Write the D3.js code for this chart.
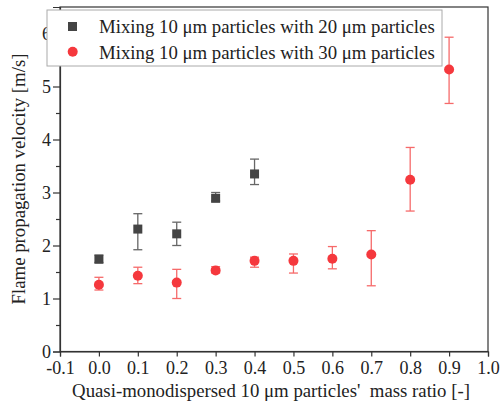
<!DOCTYPE html>
<html>
<head>
<meta charset="utf-8">
<script src="https://cdn.jsdelivr.net/npm/d3@7"></script>
<style>
  body { margin: 0; background: #fff; }
  text { font-family: "Liberation Serif", "Times New Roman", serif; fill: #222; }
</style>
</head>
<body>
<div id="chart"></div>
<script>
// data
let ratioA = [0.0, 0.1, 0.2, 0.3, 0.4];
let speedA = [1.74, 2.31, 2.22, 2.89, 3.35];
let lowA = [1.68, 1.92, 2.00, 2.84, 3.15];
let highA = [1.82, 2.60, 2.44, 3.00, 3.63];

let ratioB = [0.0, 0.1, 0.2, 0.3, 0.4, 0.5, 0.6, 0.7, 0.8, 0.9];
let speedB = [1.26, 1.43, 1.30, 1.53, 1.71, 1.71, 1.75, 1.83, 3.24, 5.32];
let lowB = [1.16, 1.28, 1.00, 1.48, 1.59, 1.48, 1.56, 1.24, 2.65, 4.68];
let highB = [1.40, 1.59, 1.55, 1.60, 1.78, 1.84, 1.98, 2.28, 3.85, 5.93];

let xTicks = [-0.1, 0.0, 0.1, 0.2, 0.3, 0.4, 0.5, 0.6, 0.7, 0.8, 0.9, 1.0];
let yTicks = [0, 1, 2, 3, 4, 5, 6];
let yMinor = [0.5, 1.5, 2.5, 3.5, 4.5, 5.5];
let legendLabels = ["Mixing 10 \u03bcm particles with 20 \u03bcm particles",
                    "Mixing 10 \u03bcm particles with 30 \u03bcm particles"];

let width = 500;
let height = 412;
let plotLeft = 60, plotRight = 488, plotTop = 7, plotBottom = 351.5;
let darkColor = "#444";
let darkErr = "#666";
let redColor = "#f5383d";
let redErr = "#f66a6a";
let titleSize = 18.8;

let svg = d3.select("#chart").append("svg")
  .attr("width", width)
  .attr("height", height);

let x = d3.scaleLinear().domain([-0.1, 1.0]).range([plotLeft, plotRight]);
let y = d3.scaleLinear().domain([0, 6.5]).range([plotBottom, plotTop]);

// frame
svg.append("rect")
  .attr("x", plotLeft).attr("y", plotTop)
  .attr("width", plotRight - plotLeft).attr("height", plotBottom - plotTop)
  .attr("fill", "none").attr("stroke", "#333").attr("stroke-width", 1.2);

// hyphen instead of unicode minus, like the original
let fmtX = d => d3.format(".1f")(d).replace("\u2212", "-");

svg.append("g")
  .attr("transform", "translate(0," + plotBottom + ")")
  .call(d3.axisBottom(x).tickValues(xTicks).tickFormat(fmtX).tickSize(5).tickPadding(5));

svg.append("g")
  .attr("transform", "translate(" + plotLeft + ",0)")
  .call(d3.axisLeft(y).tickValues(yTicks).tickFormat(d3.format("d")).tickSize(7).tickPadding(2));

svg.append("g")
  .attr("transform", "translate(" + plotLeft + ",0)")
  .call(d3.axisLeft(y).tickValues(yMinor).tickSize(4).tickFormat(""))
  .select(".domain").remove();

svg.selectAll(".tick text")
  .attr("font-size", 18)
  .style("font-family", "'Liberation Serif', serif")
  .attr("fill", "#222");
svg.selectAll(".tick line, .domain").attr("stroke", "#333").attr("stroke-width", 1.2);

// axis titles
svg.append("text")
  .attr("x", 271).attr("y", 397)
  .attr("text-anchor", "middle")
  .attr("font-size", titleSize)
  .text("Quasi-monodispersed 10 \u03bcm particles'\u00a0 mass ratio [-]");

svg.append("text")
  .attr("transform", "translate(25,179)rotate(-90)")
  .attr("text-anchor", "middle")
  .attr("font-size", titleSize)
  .text("Flame propagation velocity [m/s]");

// error bars
function errorBars(xs, lo, hi, color) {
  let g = svg.append("g").attr("stroke", color).attr("stroke-width", 1.3);
  xs.forEach(function(d, i) {
    g.append("line").attr("x1", x(d)).attr("x2", x(d)).attr("y1", y(lo[i])).attr("y2", y(hi[i]));
    g.append("line").attr("x1", x(d) - 4.5).attr("x2", x(d) + 4.5).attr("y1", y(lo[i])).attr("y2", y(lo[i]));
    g.append("line").attr("x1", x(d) - 4.5).attr("x2", x(d) + 4.5).attr("y1", y(hi[i])).attr("y2", y(hi[i]));
  });
}
errorBars(ratioA, lowA, highA, darkErr);
errorBars(ratioB, lowB, highB, redErr);

svg.append("g").selectAll("rect")
  .data(ratioA)
  .join("rect")
  .attr("x", d => x(d) - 4.5)
  .attr("y", (d, i) => y(speedA[i]) - 4.5)
  .attr("width", 9).attr("height", 9)
  .attr("fill", darkColor);

svg.append("g").selectAll("circle")
  .data(ratioB)
  .join("circle")
  .attr("cx", d => x(d))
  .attr("cy", (d, i) => y(speedB[i]))
  .attr("r", 5)
  .attr("fill", redColor);

// legend
let legend = svg.append("g");
legend.append("rect")
  .attr("x", 47).attr("y", 10)
  .attr("width", 395).attr("height", 56)
  .attr("fill", "#fff").attr("stroke", "#aaa").attr("stroke-width", 1);
legend.append("rect")
  .attr("x", 68).attr("y", 22).attr("width", 9).attr("height", 9).attr("fill", darkColor);
legend.append("circle")
  .attr("cx", 72.7).attr("cy", 51.7).attr("r", 5).attr("fill", redColor);
legend.selectAll("text.lab")
  .data(legendLabels)
  .join("text")
  .attr("class", "lab")
  .attr("x", 99)
  .attr("y", (d, i) => 33 + i * 25.5)
  .attr("font-size", titleSize)
  .text(d => d);
</script>
</body>
</html>
